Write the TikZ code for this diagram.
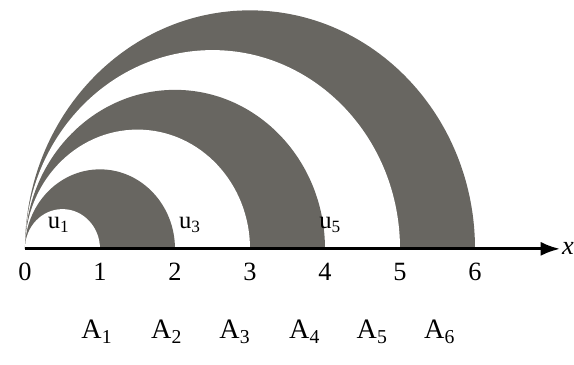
\documentclass[tikz,border=0pt]{standalone}
\usepackage{fontspec}
\setmainfont{Liberation Serif}
\usepackage{xcolor}
\definecolor{ringgray}{RGB}{104,102,97}
\usepackage{tikz}
\usetikzlibrary{
  arrows.meta,
  positioning,
  calc
}

\begin{document}
\begin{tikzpicture}[
    x=1.5cm, y=1.59cm,
    axis/.style={line width=1.6pt, -{Latex[length=11pt,width=8pt]}},
    ticklbl/.style={font=\fontsize{15}{17}\selectfont, inner sep=1pt},
    ptlbl/.style={font=\fontsize{16}{18}\selectfont, inner sep=1pt},
    arealbl/.style={font=\fontsize{14}{16}\selectfont, inner sep=1pt}
  ]
  \useasboundingbox (-0.333,-1.46) rectangle (7.32,3.13);

  %% --- Half rings (dark, then white cut-outs) ---
  \foreach \r/\c in {3/ringgray, 2.5/white, 2/ringgray, 1.5/white, 1/ringgray, 0.5/white}
    \fill[\c] (0,0) arc[start angle=180, end angle=0,
                        x radius=\r*1.5cm, y radius=\r*1.59cm] -- cycle;

  %% --- Area labels ---
  \node[arealbl] (u1) at (0.45,0.3) {u\textsubscript{1}};
  \node[arealbl] (u3) at (2.2,0.3)  {u\textsubscript{3}};
  \node[arealbl] (u5) at (4.07,0.3) {u\textsubscript{5}};

  %% --- Axis ---
  \coordinate (O) at (0,0);
  \node[ticklbl] (xlab) at (7.24,0) {\textit{x}};
  \draw[axis] (O) -- (xlab.west);

  %% --- Ticks ---
  \foreach \i in {0,...,6}
    \node[ticklbl] (t\i) at (\i,-0.29) {\i};

  %% --- Points ---
  \foreach \i/\xx in {1/0.96, 2/1.89, 3/2.8, 4/3.73, 5/4.63, 6/5.53}
    \node[ptlbl] (A\i) at (\xx,-1.04) {A\textsubscript{\i}};
\end{tikzpicture}
\end{document}
